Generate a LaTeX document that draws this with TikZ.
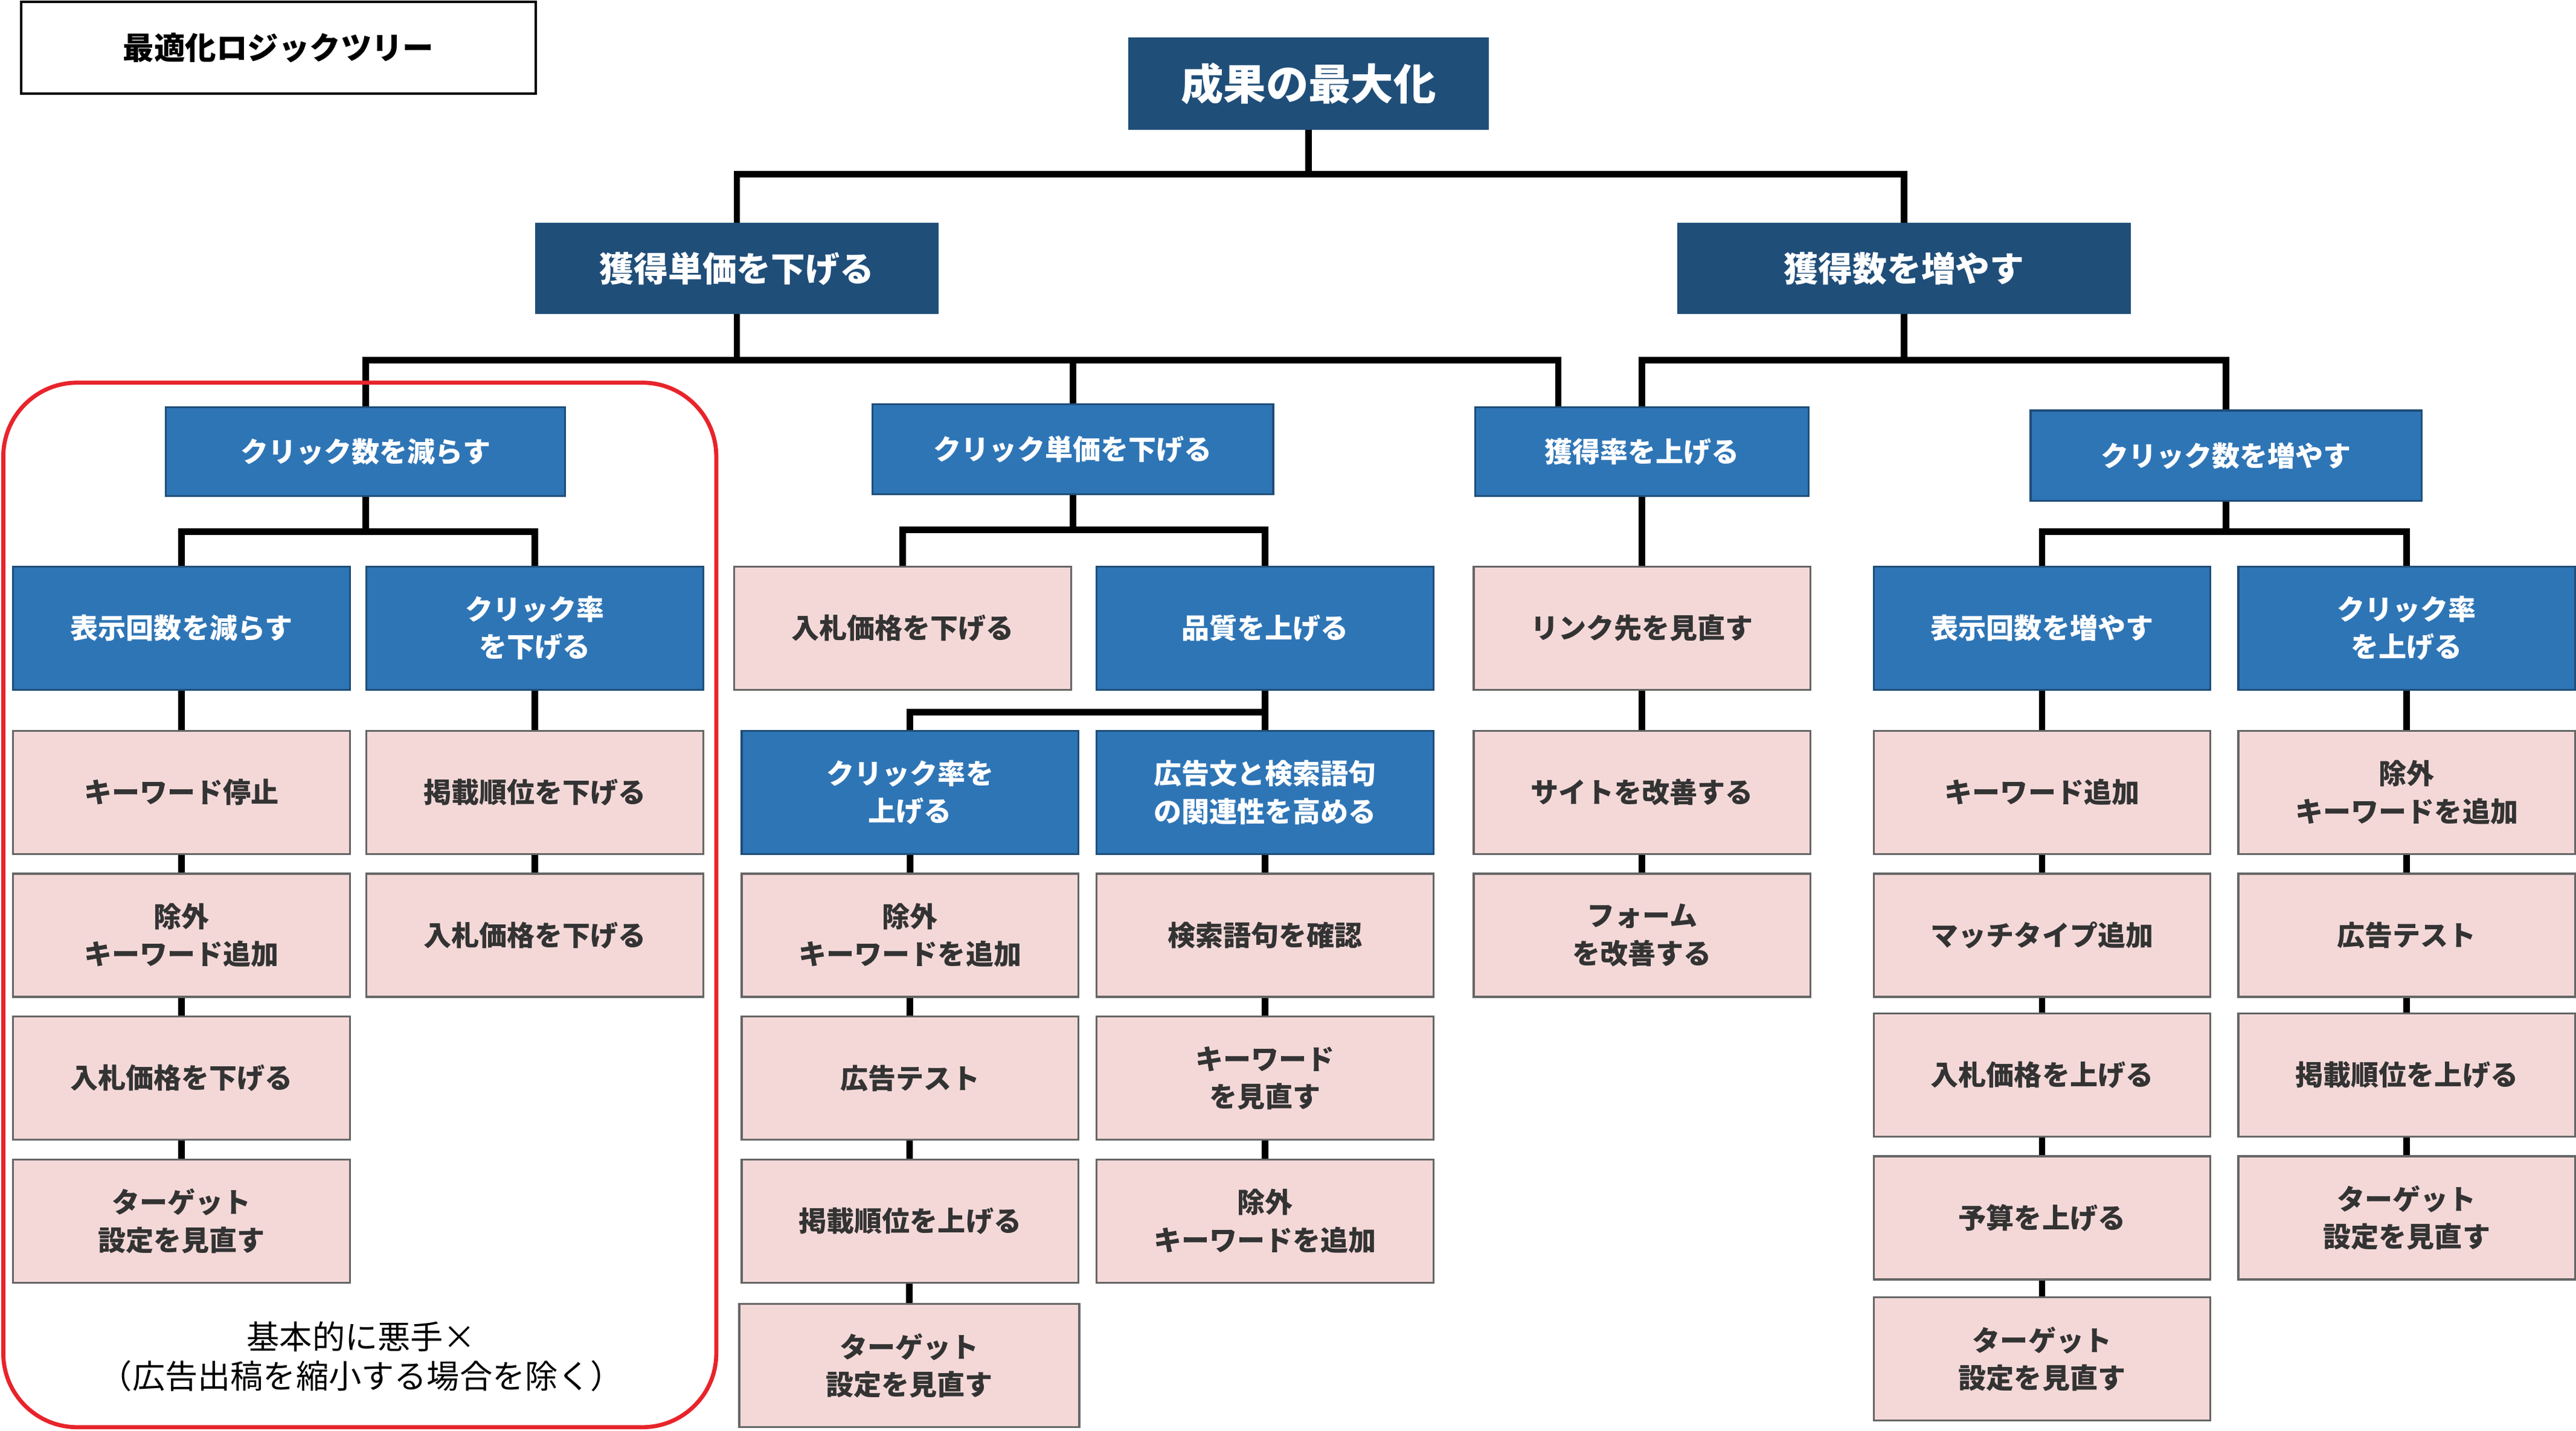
\documentclass[tikz,border=0pt]{standalone}
\usepackage{fontspec}
\newfontfamily\jp{Noto Sans CJK JP}
\usetikzlibrary{backgrounds,calc}
\definecolor{navy}{HTML}{1F4E79}
\definecolor{mblue}{HTML}{2E75B6}
\definecolor{pinkf}{HTML}{F4D8D8}
\definecolor{redc}{HTML}{E8242B}
\begin{document}
\begin{tikzpicture}[x=1bp,y=-1bp,
 base/.style={inner sep=0pt,align=center,font=\jp\bfseries\fontsize{17}{23}\selectfont},
 dk/.style={base,fill=navy,text=white,draw=navy},
 bl/.style={base,fill=mblue,text=white,draw=navy,line width=1.2bp,minimum width=205bp,minimum height=75bp},
 pk/.style={base,fill=pinkf,text=black!80,draw=black!60,line width=1.2bp,minimum width=205bp,minimum height=75bp},
 ln/.style={line width=4bp}]
\useasboundingbox (0,0) rectangle (1568,871);
\node[draw,line width=1.5bp,minimum width=313bp,minimum height=56bp,inner sep=0pt,font=\jp\bfseries\fontsize{19}{23}\selectfont] (title) at (169.5,29) {最適化ロジックツリー};
\node[dk,minimum width=219bp,minimum height=56bp,font=\jp\bfseries\fontsize{26}{30}\selectfont] (root) at (796.5,51) {成果の最大化};
\node[dk,minimum width=245bp,minimum height=55bp,font=\jp\bfseries\fontsize{21}{25}\selectfont] (a) at (448.5,163.5) {獲得単価を下げる};
\node[dk,minimum width=276bp,minimum height=55bp,font=\jp\bfseries\fontsize{21}{25}\selectfont] (b) at (1159,163.5) {獲得数を増やす};
\node[bl,minimum width=243bp,minimum height=54bp] (c1) at (222.5,275) {クリック数を減らす};
\node[bl,minimum width=244bp,minimum height=55bp] (c2) at (653,273.5) {クリック単価を下げる};
\node[bl,minimum width=203bp,minimum height=54bp] (c3) at (999.5,275) {獲得率を上げる};
\node[bl,minimum width=238bp,minimum height=55bp] (c4) at (1355,277.5) {クリック数を増やす};
% left group
\node[bl] (d1) at (110.5,382.5) {表示回数を減らす};
\node[bl] (d2) at (325.5,382.5) {クリック率\\を下げる};
\node[pk] (e1) at (110.5,482.5) {キーワード停止};
\node[pk] (e2) at (110.5,569.5) {除外\\キーワード追加};
\node[pk] (e3) at (110.5,656.5) {入札価格を下げる};
\node[pk] (e4) at (110.5,743.5) {ターゲット\\設定を見直す};
\node[pk] (f1) at (325.5,482.5) {掲載順位を下げる};
\node[pk] (f2) at (325.5,569.5) {入札価格を下げる};
\draw[redc,line width=2.5bp,rounded corners=45bp] (2,233) rectangle (436,869);
\node[font=\jp\fontsize{20}{24}\selectfont,align=center,inner sep=0pt] (note) at (220,826) {基本的に悪手×\\（広告出稿を縮小する場合を除く）};
% middle
\node[pk] (g1) at (549.5,382.5) {入札価格を下げる};
\node[bl] (g2) at (770,382.5) {品質を上げる};
\node[bl] (h1) at (554,482.5) {クリック率を\\上げる};
\node[bl] (h2) at (770,482.5) {広告文と検索語句\\の関連性を高める};
\node[pk] (i1) at (554,569.5) {除外\\キーワードを追加};
\node[pk] (i2) at (554,656.5) {広告テスト};
\node[pk] (i3) at (554,743.5) {掲載順位を上げる};
\node[pk,minimum width=207bp] (i4) at (553.5,831.5) {ターゲット\\設定を見直す};
\node[pk] (j1) at (770,569.5) {検索語句を確認};
\node[pk] (j2) at (770,656.5) {キーワード\\を見直す};
\node[pk] (j3) at (770,743.5) {除外\\キーワードを追加};
% conversion
\node[pk] (k1) at (999.5,382.5) {リンク先を見直す};
\node[pk] (k2) at (999.5,482.5) {サイトを改善する};
\node[pk] (k3) at (999.5,569.5) {フォーム\\を改善する};
% right
\node[bl] (m1) at (1243,382.5) {表示回数を増やす};
\node[bl] (m2) at (1465,382.5) {クリック率\\を上げる};
\node[pk] (n1) at (1243,482.5) {キーワード追加};
\node[pk] (n2) at (1243,569.5) {マッチタイプ追加};
\node[pk] (n3) at (1243,654.5) {入札価格を上げる};
\node[pk] (n4) at (1243,741.5) {予算を上げる};
\node[pk] (n5) at (1243,827.5) {ターゲット\\設定を見直す};
\node[pk] (o1) at (1465,482.5) {除外\\キーワードを追加};
\node[pk] (o2) at (1465,569.5) {広告テスト};
\node[pk] (o3) at (1465,654.5) {掲載順位を上げる};
\node[pk] (o4) at (1465,741.5) {ターゲット\\設定を見直す};
\begin{scope}[on background layer]
\draw[ln] (root.south) -- ++(0,27) -| (a.north);
\draw[ln] (root.south) -- ++(0,27) -| (b.north);
\draw[ln] (a.south) -- ++(0,28) -| (c1.north);
\draw[ln] (a.south) -- ++(0,28) -| (c2.north);
\draw[ln] (a.south) -- ++(0,28) -| ($(c3.north)+(-51,0)$);
\draw[ln] (b.south) -- ++(0,28) -| (c3.north);
\draw[ln] (b.south) -- ++(0,28) -| (c4.north);
\draw[ln] (c1.south) -- ++(0,21) -| (d1.north);
\draw[ln] (c1.south) -- ++(0,21) -| (d2.north);
\draw[ln] (d1.south) -- (e4.north);
\draw[ln] (d2.south) -- (f2.north);
\draw[ln] (c2.south) -- ++(0,21) -| (g1.north);
\draw[ln] (c2.south) -- ++(0,21) -| (g2.north);
\draw[ln] (g2.south) -- ++(0,13) -| (h1.north);
\draw[ln] (g2.south) -- (h2.north);
\draw[ln] (h1.south) -- (i4.north);
\draw[ln] (h2.south) -- (j3.north);
\draw[ln] (c3.south) -- (k3.north);
\draw[ln] (c4.south) -- ++(0,18) -| (m1.north);
\draw[ln] (c4.south) -- ++(0,18) -| (m2.north);
\draw[ln] (m1.south) -- (n5.north);
\draw[ln] (m2.south) -- (o4.north);
\end{scope}
\end{tikzpicture}
\end{document}
